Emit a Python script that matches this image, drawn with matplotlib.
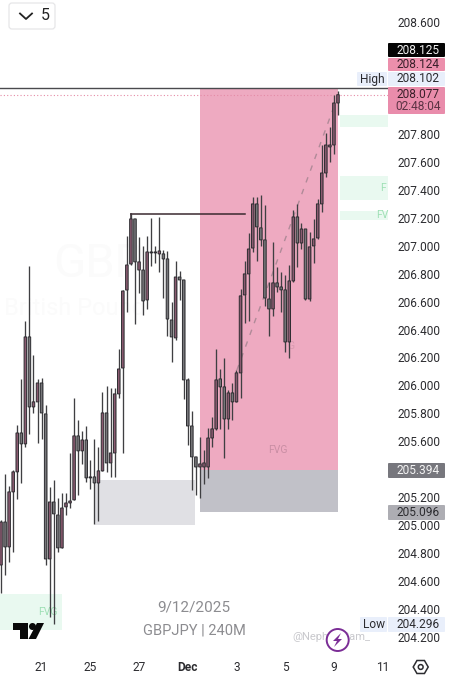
import numpy as np
import matplotlib
matplotlib.use('Agg')
import matplotlib.pyplot as plt
from matplotlib.patches import Rectangle, FancyBboxPatch, Circle, Polygon

plt.rcParams['font.family'] = ['Roboto', 'DejaVu Sans']

# GBPJPY 240M candles
opens = [204.718, 205.025, 204.847, 205.240, 205.383, 205.661, 205.583, 206.347, 205.847, 205.883,
         206.018, 205.797, 204.761, 205.168, 205.075, 204.840, 205.133, 205.161, 205.183, 205.640,
         205.533, 205.611, 205.340, 205.347, 205.304, 205.390, 205.804, 205.447, 205.518, 205.940,
         206.125, 206.682, 206.868, 207.190, 206.825, 206.825, 206.611, 206.954, 206.947, 206.940,
         206.940, 206.904, 206.468, 206.340, 206.775, 206.754, 206.040, 205.711, 205.490, 205.418,
         205.418, 205.418, 205.625, 205.690, 206.047, 205.990, 205.761, 205.947, 205.883, 206.090,
         206.647, 206.797, 206.982, 207.297, 207.126, 207.040, 206.618, 206.547, 206.733, 206.704,
         206.683, 206.311, 206.747, 207.204, 207.018, 207.118, 206.618, 206.997, 207.054, 207.297,
         207.518, 207.704, 207.718, 208.018]
highs = [205.040, 205.368, 205.283, 205.397, 205.718, 206.047, 206.461, 206.854, 206.218, 206.047,
         206.054, 205.861, 205.275, 205.325, 205.197, 205.233, 205.233, 205.518, 205.911, 205.754,
         205.675, 205.711, 205.468, 205.618, 205.561, 205.954, 205.997, 205.983, 205.983, 206.261,
         206.682, 207.068, 207.225, 207.190, 207.061, 206.997, 207.068, 207.197, 206.997, 207.204,
         206.968, 206.961, 206.597, 206.890, 206.818, 206.754, 206.054, 205.818, 205.490, 205.633,
         205.540, 205.697, 205.775, 206.261, 206.118, 206.197, 205.968, 206.018, 206.111, 206.690,
         206.890, 207.090, 207.347, 207.347, 207.361, 207.290, 206.740, 207.025, 206.847, 206.811,
         206.790, 206.861, 207.254, 207.297, 207.161, 207.118, 207.097, 207.190, 207.333, 207.718,
         207.804, 207.847, 208.075, 208.102]
lows = [204.518, 204.647, 204.740, 204.811, 205.190, 205.304, 205.561, 205.654, 205.804, 205.590,
        205.618, 204.718, 204.347, 204.296, 204.811, 204.840, 205.075, 205.125, 205.183, 205.218,
        205.440, 205.311, 205.261, 205.011, 205.033, 205.390, 205.383, 205.347, 205.347, 205.911,
        205.518, 206.525, 206.861, 206.440, 206.661, 206.504, 206.547, 206.854, 206.875, 206.811,
        206.625, 206.354, 206.168, 206.325, 206.611, 205.904, 205.575, 205.254, 205.218, 205.197,
        205.297, 205.340, 205.561, 205.682, 205.690, 205.483, 205.690, 205.754, 205.883, 205.911,
        206.447, 206.461, 206.954, 206.890, 206.997, 206.568, 206.354, 206.497, 206.668, 206.525,
        206.240, 206.197, 206.740, 206.847, 206.975, 206.611, 206.604, 206.875, 207.047, 207.240,
        207.490, 207.597, 207.654, 207.933]
closes = [205.025, 204.847, 205.240, 205.383, 205.661, 205.583, 206.347, 205.847, 205.883, 206.018,
          205.804, 204.761, 205.168, 205.083, 204.840, 205.125, 205.161, 205.175, 205.640, 205.533,
          205.611, 205.340, 205.347, 205.304, 205.390, 205.804, 205.447, 205.518, 205.940, 206.118,
          206.675, 206.861, 207.190, 206.883, 206.883, 206.604, 206.954, 206.947, 206.954, 206.961,
          206.904, 206.475, 206.347, 206.775, 206.754, 206.040, 205.711, 205.490, 205.418, 205.440,
          205.447, 205.625, 205.690, 206.040, 205.990, 205.761, 205.947, 205.883, 206.090, 206.640,
          206.797, 206.975, 207.297, 207.133, 207.040, 206.625, 206.547, 206.733, 206.704, 206.683,
          206.311, 206.747, 207.204, 207.018, 207.118, 206.618, 206.990, 207.047, 207.297, 207.518,
          207.718, 207.718, 208.018, 208.077]

price_ticks = [208.6, 207.8, 207.6, 207.4, 207.2, 207.0, 206.8, 206.6, 206.4, 206.2,
               206.0, 205.8, 205.6, 205.2, 205.0, 204.8, 204.6, 204.4, 204.2]
date_ticks = [10, 22, 34, 46, 58, 70, 82, 94]
date_labels = ['21', '25', '27', 'Dec', '3', '5', '9', '11']

fig = plt.figure(figsize=(4.53, 6.8), dpi=100)
ax = fig.add_axes([0, 0, 1, 1])
# one candle every 4.06 px, 140 px per 1.000 of price
ax.set_xlim(-0.246, 111.33)
ax.set_ylim(203.8964, 208.7536)
for s in ax.spines.values():
    s.set_visible(False)

# watermark, almost invisible
ax.text(24, 206.87, 'GBP', fontsize=34, color='#fbfbfb', ha='center', va='center')
ax.text(18, 206.55, 'British Pound', fontsize=17, color='#fbfbfb', ha='center', va='center')

# zones
ax.add_patch(Rectangle((48.9, 205.394), 34.1, 2.731, fc='#eeaac1', ec='none', zorder=1))
ax.add_patch(Rectangle((48.9, 205.096), 34.1, 0.298, fc='#c1c1c8', ec='none', zorder=1))
ax.add_patch(Rectangle((23.2, 205.0), 24.6, 0.325, fc='#e0e0e4', ec='none', zorder=1))
for left, width, bottom, height in [(83.5, 11.8, 207.847, 0.086), (83.5, 11.8, 207.325, 0.172),
                                    (83.5, 11.8, 207.183, 0.064), (-0.25, 15.3, 204.254, 0.257)]:
    ax.add_patch(Rectangle((left, bottom), width, height, fc='#e9f9f0', ec='none', zorder=1))

ax.text(68.3, 205.54, 'FVG', fontsize=7.5, color='#c98ea4', ha='center', va='center', zorder=1.5)
ax.text(71.5, 206.28, 'G', fontsize=7.5, color='#d99ab0', ha='center', va='center', zorder=1.5)
ax.text(11.5, 204.38, 'FVG', fontsize=7.5, color='#9fe0b5', ha='center', va='center', zorder=1.5)
ax.text(94.2, 207.41, 'F', fontsize=7.5, color='#9fe0b5', ha='center', va='center', zorder=1.5)
ax.text(93.8, 207.215, 'FV', fontsize=7.5, color='#9fe0b5', ha='center', va='center', zorder=1.5)

# reference lines
ax.axhline(208.125, xmin=0, xmax=388 / 453, color='#4a4a4e', lw=1.0, zorder=2)
ax.axhline(208.077, xmin=0, xmax=388 / 453, color='#e58aa6', lw=0.8, ls=(0, (1, 2)), zorder=2)
ax.plot([32, 60], [207.225, 207.225], color='#3a2a30', lw=1.1, zorder=2)
ax.plot([32, 32], [207.190, 207.225], color='#3a2a30', lw=1.1, zorder=2)
ax.plot([58.1, 82.5], [206.11, 208.03], color='#b08a98', lw=1.0, ls=(0, (4, 5)), zorder=2)

# candles
x = np.arange(len(opens))
o, h, l, c = map(np.array, (opens, highs, lows, closes))
up = c >= o
body_colors = np.where(up, '#8a5a70', '#77777a')
ax.vlines(x, l, h, color='#3f3f42', lw=0.95, zorder=3)
bars = ax.bar(x, np.abs(c - o), bottom=np.minimum(o, c), width=0.62, color=body_colors,
              edgecolor='#2c2c30', linewidth=0.7, zorder=3.5)
for b in bars:
    b.set_snap(False)

# price and time axes, drawn inside the picture
ax.yaxis.tick_right()
ax.set_yticks(price_ticks)
ax.set_yticklabels(['%.3f' % p for p in price_ticks])
ax.tick_params(axis='y', length=0, pad=-40.3, labelsize=8.6, labelcolor='#2c2c30')
ax.set_xticks(date_ticks)
ax.set_xticklabels(date_labels)
ax.tick_params(axis='x', length=0, pad=-13.5, labelsize=8.6, labelcolor='#2c2c30')
ax.get_xticklabels()[3].set_fontweight('bold')

# interface bits sit on an overlay in pixel units
ov = fig.add_axes([0, 0, 1, 1])
ov.set_xlim(0, 453)
ov.set_ylim(680, 0)
ov.axis('off')
ov.patch.set_alpha(0)


def price_box(top, bottom, color, left=388, right=445):
    ov.add_patch(FancyBboxPatch((left + 1, top + 1), right - left - 2, bottom - top - 2,
                                boxstyle='round,pad=1', fc=color, ec='none', zorder=4))


def label(xp, yp, text, color='#2c2c30', size=8.6, ha='center', **kw):
    ov.text(xp, yp, text, color=color, fontsize=size, ha=ha, va='center', zorder=5, **kw)


price_box(43, 57, '#050505')
label(418, 50, '208.125', color='#f2f2f2')
price_box(58, 71, '#ec8fac')
label(418, 64.5, '208.124', color='#3a1f2a')
price_box(72, 86, '#e9effb')
label(418, 79, '208.102')
price_box(72, 86, '#e9effb', left=357, right=387)
label(372, 79, 'High')
price_box(87, 114, '#e98cab')
label(418, 94, '208.077', color='#3a1f2a')
label(418, 107, '02:48:04', color='#5c3344')
price_box(463, 478, '#77777d')
label(418, 470.5, '205.394', color='#f4f4f4')
price_box(505, 520, '#adadb3')
label(418, 512.5, '205.096')
price_box(617, 632, '#e9effb')
label(418, 624.5, '204.296')
price_box(617, 632, '#e9effb', left=360, right=387)
label(373.5, 624, 'Low')

label(193.5, 607, '9/12/2025', color='#8c8c90', size=11)
label(194, 631, 'GBPJPY | 240M', color='#8c8c90', size=10.5)
label(331, 636.5, '@NephewSam_', color='#c9c9cd', size=8)

# tradingview mark
ov.add_patch(Polygon([(13, 623), (28, 623), (28, 639), (20, 639), (20, 630), (13, 630)], fc='#0a0a0a', ec='none', zorder=5))
ov.add_patch(Circle((32.5, 626.5), 3.5, fc='#0a0a0a', ec='none', zorder=5))
ov.add_patch(Polygon([(37, 623), (44, 623), (36, 639), (28.5, 639)], fc='#0a0a0a', ec='none', zorder=5))

# lightning badge
ov.add_patch(Circle((337.7, 640), 11, fc='#ffffff', ec='#7b2d96', lw=1.4, zorder=5))
ov.add_patch(Polygon([(341, 633), (333, 641), (337, 641), (334, 647), (342, 639), (338, 639)], fc='#7b2d96', ec='none', zorder=6))

# settings hexagon
ang = np.deg2rad(np.arange(0, 360, 60))
ov.add_patch(Polygon(np.c_[420.7 + 7.5 * np.cos(ang), 667 + 7.5 * np.sin(ang)], fc='none', ec='#2c2c30', lw=1.1, zorder=5))
ov.add_patch(Circle((420.7, 667), 2.4, fc='none', ec='#2c2c30', lw=1.1, zorder=5))

# interval selector
ov.add_patch(FancyBboxPatch((12, 6), 40, 20, boxstyle='round,pad=3', fc='#ffffff', ec='#e6e6e8', lw=0.9, zorder=5))
ov.plot([20, 26, 32], [13.5, 19, 13.5], color='#222222', lw=1.3, zorder=6)
label(45.5, 16, '5', color='#222222', size=11.5)

fig.savefig('out.png', dpi=100)
